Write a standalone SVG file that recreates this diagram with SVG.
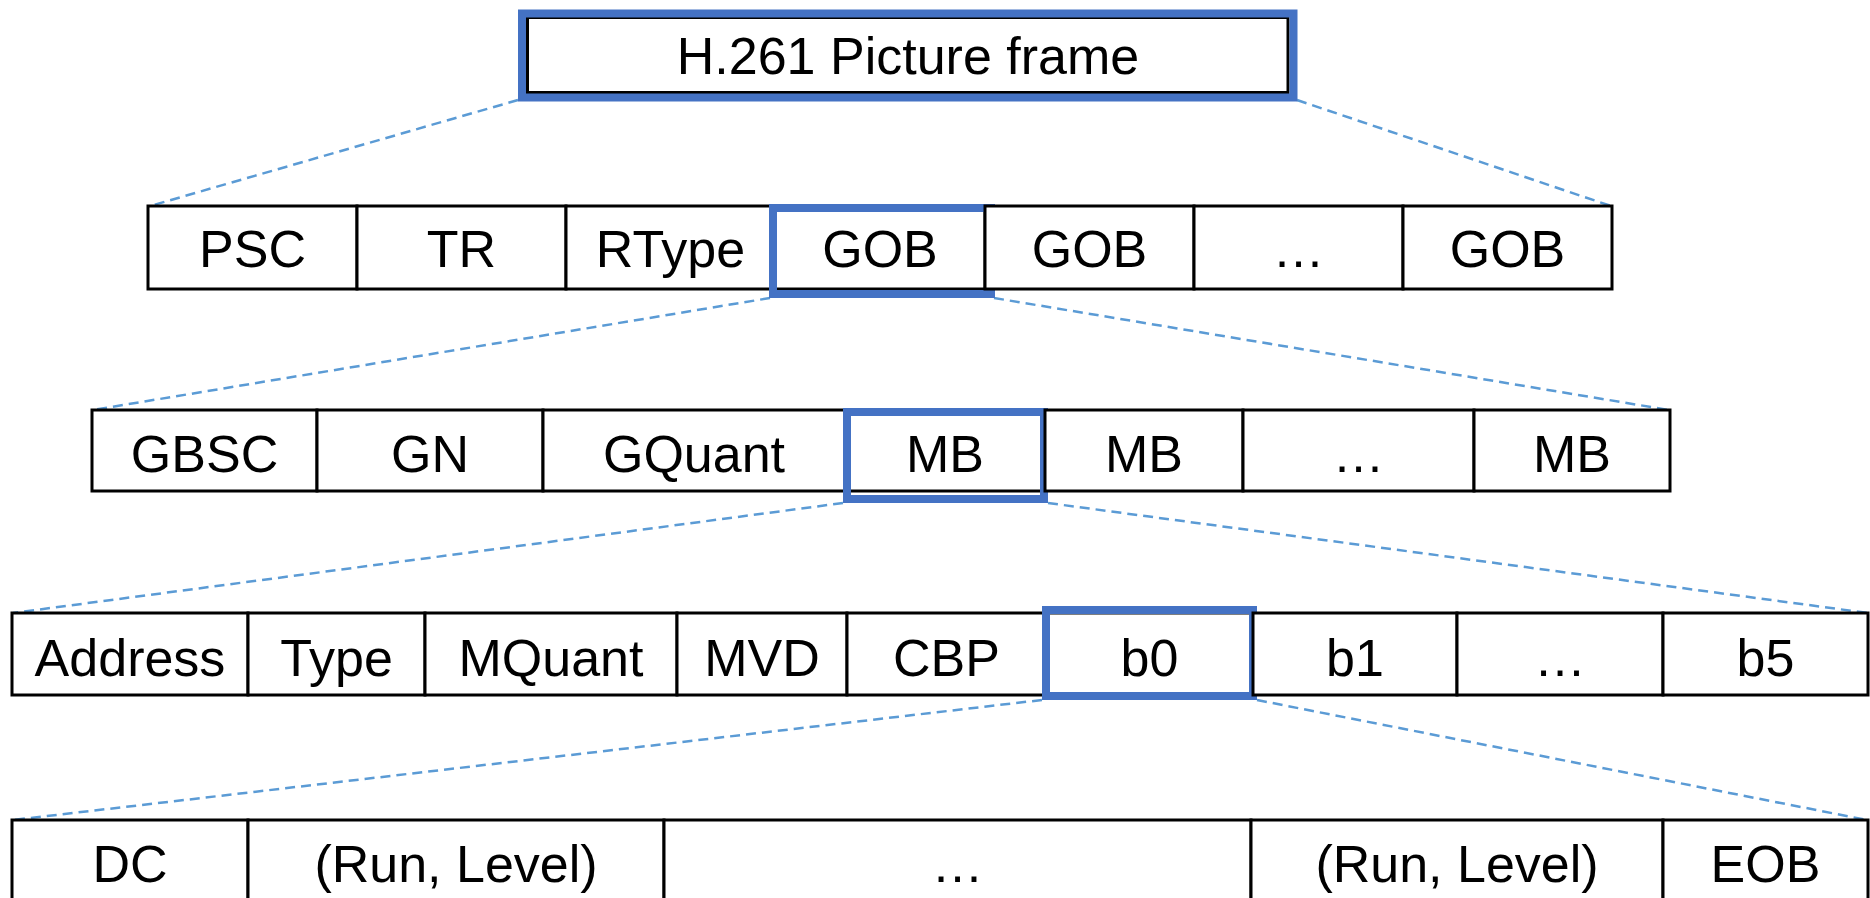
<svg xmlns="http://www.w3.org/2000/svg" width="1870" height="898" viewBox="0 0 1870 898">
<style>
.cell{fill:#fff;stroke:#000;stroke-width:3}
.hl{fill:none;stroke:#4472C4;stroke-width:8}
.t{font-family:"Liberation Sans",Arial,sans-serif;font-size:52px;fill:#000;text-anchor:middle}
.dash{stroke:#5B9BD5;stroke-width:2.5;stroke-dasharray:10 6;fill:none}
</style>
<rect width="1870" height="898" fill="#fff"/>
<g id="connectors">
<line class="dash" x1="518" y1="100" x2="150" y2="206"/>
<line class="dash" x1="1297" y1="100" x2="1611" y2="206"/>
<line class="dash" x1="770" y1="298" x2="93" y2="410"/>
<line class="dash" x1="994" y1="298" x2="1669" y2="410"/>
<line class="dash" x1="843" y1="503" x2="13" y2="613"/>
<line class="dash" x1="1048" y1="503" x2="1868" y2="613"/>
<line class="dash" x1="1042" y1="700" x2="13" y2="820"/>
<line class="dash" x1="1257" y1="700" x2="1867" y2="820"/>
</g>
<g id="title">
<rect fill="#fff" stroke="#000" stroke-width="3" x="527.5" y="17.5" width="760.5" height="75"/>
<rect class="hl" x="522" y="13.5" width="771.5" height="84"/>
<text class="t" x="908" y="74">H.261 Picture frame</text>
</g>
<g id="row2">
<g id="r2-psc"><rect class="cell" x="148" y="206" width="209" height="83"/><text class="t" x="252.5" y="267">PSC</text></g>
<g id="r2-tr"><rect class="cell" x="357" y="206" width="209" height="83"/><text class="t" x="461.5" y="267">TR</text></g>
<g id="r2-rtype"><rect class="cell" x="566" y="206" width="209" height="83"/><text class="t" x="670.5" y="267">RType</text></g>
<g id="r2-gob1"><rect class="cell" x="775" y="206" width="210" height="83"/><text class="t" x="880" y="267">GOB</text><rect class="hl" x="773" y="208" width="218" height="86"/></g>
<g id="r2-gob2"><rect class="cell" x="985" y="206" width="209" height="83"/><text class="t" x="1089.5" y="267">GOB</text></g>
<g id="r2-dots"><rect class="cell" x="1194" y="206" width="209" height="83"/><text class="t" x="1298.5" y="267">…</text></g>
<g id="r2-gob3"><rect class="cell" x="1403" y="206" width="209" height="83"/><text class="t" x="1507.5" y="267">GOB</text></g>
</g>
<g id="row3">
<g id="r3-gbsc"><rect class="cell" x="92" y="410" width="225" height="81"/><text class="t" x="204.5" y="472">GBSC</text></g>
<g id="r3-gn"><rect class="cell" x="317" y="410" width="226" height="81"/><text class="t" x="430" y="472">GN</text></g>
<g id="r3-gquant"><rect class="cell" x="543" y="410" width="302" height="81"/><text class="t" x="694" y="472">GQuant</text></g>
<g id="r3-mb1"><rect class="cell" x="845" y="410" width="200" height="81"/><text class="t" x="945" y="472">MB</text><rect class="hl" x="847" y="412" width="197" height="87"/></g>
<g id="r3-mb2"><rect class="cell" x="1045" y="410" width="198" height="81"/><text class="t" x="1144" y="472">MB</text></g>
<g id="r3-dots"><rect class="cell" x="1243" y="410" width="231" height="81"/><text class="t" x="1358.5" y="472">…</text></g>
<g id="r3-mb3"><rect class="cell" x="1474" y="410" width="196" height="81"/><text class="t" x="1572" y="472">MB</text></g>
</g>
<g id="row4">
<g id="r4-address"><rect class="cell" x="12" y="613" width="236" height="82"/><text class="t" x="130" y="676">Address</text></g>
<g id="r4-type"><rect class="cell" x="248" y="613" width="177" height="82"/><text class="t" x="336.5" y="676">Type</text></g>
<g id="r4-mquant"><rect class="cell" x="425" y="613" width="252" height="82"/><text class="t" x="551" y="676">MQuant</text></g>
<g id="r4-mvd"><rect class="cell" x="677" y="613" width="170" height="82"/><text class="t" x="762" y="676">MVD</text></g>
<g id="r4-cbp"><rect class="cell" x="847" y="613" width="199" height="82"/><text class="t" x="946.5" y="676">CBP</text></g>
<g id="r4-b0"><rect class="cell" x="1046" y="613" width="207" height="82"/><text class="t" x="1149.5" y="676">b0</text><rect class="hl" x="1046" y="610" width="207" height="86"/></g>
<g id="r4-b1"><rect class="cell" x="1253" y="613" width="204" height="82"/><text class="t" x="1355" y="676">b1</text></g>
<g id="r4-dots"><rect class="cell" x="1457" y="613" width="206" height="82"/><text class="t" x="1560" y="676">…</text></g>
<g id="r4-b5"><rect class="cell" x="1663" y="613" width="205" height="82"/><text class="t" x="1765.5" y="676">b5</text></g>
</g>
<g id="row5">
<g id="r5-dc"><rect class="cell" x="12" y="820" width="236" height="100"/><text class="t" x="130" y="882">DC</text></g>
<g id="r5-rl1"><rect class="cell" x="248" y="820" width="416" height="100"/><text class="t" x="456" y="882">(Run, Level)</text></g>
<g id="r5-dots"><rect class="cell" x="664" y="820" width="587" height="100"/><text class="t" x="957.5" y="882">…</text></g>
<g id="r5-rl2"><rect class="cell" x="1251" y="820" width="412" height="100"/><text class="t" x="1457" y="882">(Run, Level)</text></g>
<g id="r5-eob"><rect class="cell" x="1663" y="820" width="205" height="100"/><text class="t" x="1765.5" y="882">EOB</text></g>
</g>
</svg>
